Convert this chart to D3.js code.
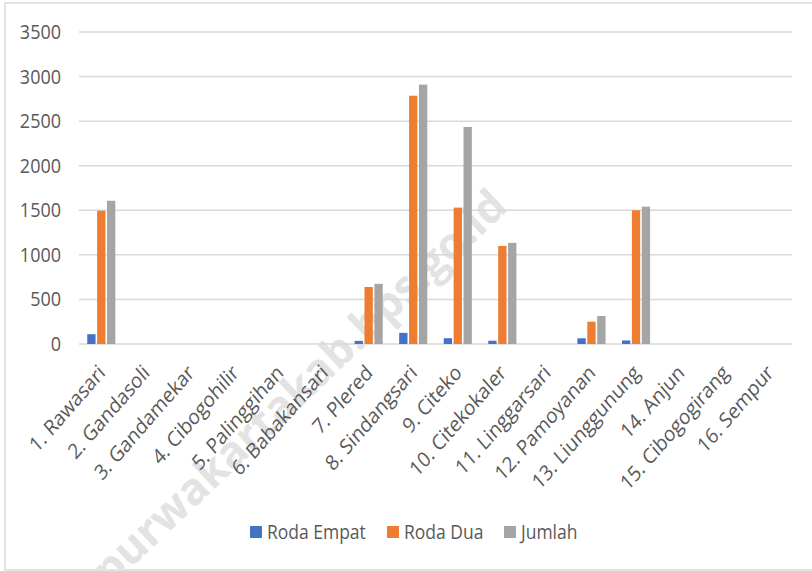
<!doctype html>
<html>
<head>
<meta charset="UTF-8">
<title>Kendaraan per desa</title>
<script src="https://d3js.org/d3.v7.min.js"></script>
<style>
  body { margin:0; background:#fff; }
  text { font-family: "Open Sans", sans-serif; fill:#595959; }
</style>
</head>
<body>
<script>
  // data
  var desa = ["1. Rawasari","2. Gandasoli","3. Gandamekar","4. Cibogohilir","5. Palinggihan",
              "6. Babakansari","7. Plered","8. Sindangsari","9. Citeko","10. Citekokaler",
              "11. Linggarsari","12. Pamoyanan","13. Liunggunung","14. Anjun","15. Cibogogirang","16. Sempur"];
  var rodaEmpat = [110,0,0,0,0,0,35,125,65,37,0,64,40,0,0,0];
  var rodaDua   = [1495,0,0,0,0,0,640,2785,1530,1100,0,250,1500,0,0,0];
  var jumlah    = [1607,0,0,0,0,0,675,2910,2435,1135,0,314,1540,0,0,0];
  var seriesNames = ["Roda Empat","Roda Dua","Jumlah"];
  var colors = ["#4472C4","#ED7D31","#A5A5A5"];
  var yTicks = [0,500,1000,1500,2000,2500,3000,3500];

  var w = 812, h = 571;
  var pLeft = 79, pRight = 792, pTop = 32, pBottom = 344;

  var svg = d3.select("body").append("svg").attr("width", w).attr("height", h);

  // chart border
  svg.append("rect").attr("x",5).attr("y",3).attr("width",w+10).attr("height",567)
    .attr("fill","none").attr("stroke","#d9d9d9").attr("stroke-width",1.5);

  // watermark
  svg.append("text").attr("transform","translate(110,588) rotate(-43.5)")
    .attr("font-size",44).attr("font-weight","bold")
    .style("fill","#e3e3e3")
    .text("purwakartakab.bps.go.id");

  var x = d3.scaleBand().domain(desa).range([pLeft, pRight]).padding(0);
  var x1 = d3.scaleBand().domain(seriesNames).range([-14.85, 14.85]).paddingInner(0.16).paddingOuter(0.08);
  var y = d3.scaleLinear().domain([0,3500]).range([pBottom, pTop]);

  // gridlines
  svg.append("g").selectAll("line").data(yTicks).enter().append("line")
    .attr("x1", pLeft).attr("x2", pRight)
    .attr("y1", function(d){ return y(d); }).attr("y2", function(d){ return y(d); })
    .attr("stroke","#d9d9d9").attr("stroke-width",1.5);

  // y labels
  svg.append("g").selectAll("text").data(yTicks).enter().append("text")
    .attr("text-anchor","end")
    .attr("transform", function(d){ return "translate(61," + (y(d)+7) + ") scale(1,1.1)"; })
    .attr("font-size",18)
    .text(function(d){ return d; });

  // bars
  var data = [rodaEmpat, rodaDua, jumlah];
  var groups = svg.append("g").selectAll("g").data(data).enter().append("g")
    .attr("fill", function(d,i){ return colors[i]; });
  groups.selectAll("rect").data(function(d,i){
      return d.map(function(v,j){ return {v:v, cat:desa[j], s:seriesNames[i]}; });
    }).enter().append("rect")
    .attr("x", function(d){ return x(d.cat) + x.bandwidth()/2 + x1(d.s); })
    .attr("width", x1.bandwidth())
    .attr("y", function(d){ return y(d.v); })
    .attr("height", function(d){ return pBottom - y(d.v); });

  // x labels
  svg.append("g").selectAll("text").data(desa).enter().append("text")
    .attr("text-anchor","end")
    .attr("font-size",18.5)
    .attr("transform", function(d){
      return "translate(" + (x(d) + x.bandwidth()/2 + 5) + "," + (pBottom + 30) + ") scale(1,1.15) rotate(-45)";
    })
    .text(function(d){ return d; });

  // legend
  var legX = [250, 387, 504];
  var leg = svg.append("g").selectAll("g").data(seriesNames).enter().append("g")
    .attr("transform", function(d,i){ return "translate(" + legX[i] + ",526)"; });
  leg.append("rect").attr("width",12).attr("height",12)
    .attr("fill", function(d,i){ return colors[i]; });
  leg.append("text").attr("font-size",17.5)
    .attr("transform","translate(17,12.5) scale(1,1.1)")
    .text(function(d){ return d; });
</script>
</body>
</html>
